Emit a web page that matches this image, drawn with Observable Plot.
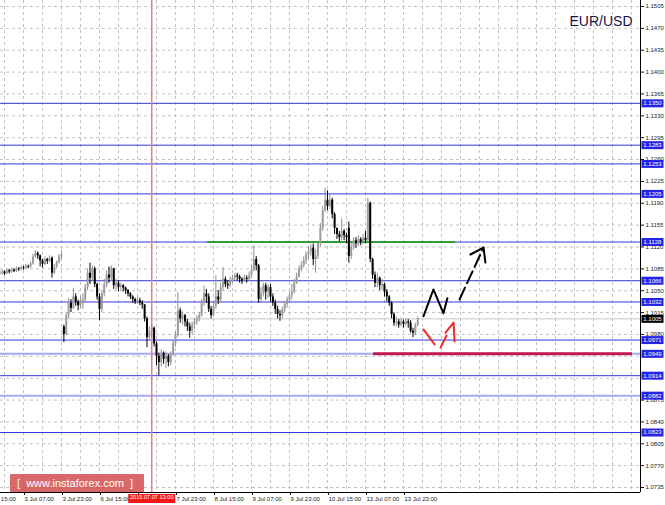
<!DOCTYPE html>
<html><head><meta charset="utf-8">
<script src="https://cdn.jsdelivr.net/npm/d3@7"></script>
<script src="https://cdn.jsdelivr.net/npm/@observablehq/plot@0.6"></script>
<style>
html,body{margin:0;padding:0;background:#fff;}
#wrap{position:relative;width:665px;height:505px;overflow:hidden;}
#wm{position:absolute;left:10px;top:474px;width:134px;height:18px;background:rgba(212,78,78,0.85);color:#fff;font:11px 'Liberation Sans',Arial,sans-serif;line-height:18px;white-space:pre;padding-left:7px;box-sizing:border-box;border-radius:1px;}
</style></head><body><div id="wrap"><div id="chart"></div><div id="wm">[  www.instaforex.com  ]</div></div>
<script>
// ---- data ----
const firstBar = 6; // hourly bar index of the first visible candle (bar 0 = 2 Jul 15:00)
const firstOpen = 1.1076;
const gapOpen = {33: 1.0992, 153: 1.1150};
const close = [
1.1078,1.1080,1.1077,1.1082,
1.1080,1.1083,1.1081,1.1085,1.1084,1.1087,1.1086,1.1089,1.1088,1.1093,
1.1104,1.1110,1.1106,1.1098,1.1092,1.1100,1.1097,1.1102,1.1078,1.1088,
1.1095,1.1104,1.1107,1.0980,1.1010,1.1030,1.1022,1.1040,1.1032,1.1026,
1.1030,1.1035,1.1055,1.1078,1.1070,1.1085,1.1060,1.1040,1.1020,1.1045,
1.1060,1.1075,1.1070,1.1085,1.1058,1.1062,1.1055,1.1058,1.1054,1.1050,
1.1045,1.1040,1.1036,1.1032,1.1034,1.1030,1.1027,1.1005,1.0975,1.0985,
1.0990,1.0965,1.0945,1.0935,1.0950,1.0940,1.0945,1.0935,1.0948,1.0965,
1.0978,1.1018,1.1005,1.1010,1.1000,1.0992,1.0985,1.0995,1.1000,1.1005,
1.1010,1.1030,1.1045,1.1040,1.1020,1.1010,1.1025,1.1040,1.1035,1.1055,
1.1068,1.1060,1.1058,1.1065,1.1070,1.1074,1.1072,1.1068,1.1065,1.1070,
1.1068,1.1074,1.1082,1.1100,1.1090,1.1036,1.1045,1.1058,1.1048,1.1055,
1.1040,1.1030,1.1020,1.1012,1.1010,1.1020,1.1028,1.1035,1.1042,1.1048,
1.1062,1.1072,1.1085,1.1090,1.1098,1.1108,1.1112,1.1118,1.1100,1.1105,
1.1125,1.1150,1.1178,1.1195,1.1185,1.1195,1.1172,1.1150,1.1140,1.1135,
1.1145,1.1138,1.1135,1.1105,1.1120,1.1130,1.1125,1.1132,1.1128,1.1134,
1.1130,1.1190,1.1100,1.1075,1.1062,1.1070,1.1058,1.1060,1.1048,1.1040,
1.1030,1.1012,1.0998,1.1000,1.0995,1.1000,1.0996,1.1000,1.0998,1.0985,
1.0982,1.0995,1.1005];
const high = [
1.1082,1.1083,1.1082,1.1085,
1.1084,1.1086,1.1085,1.1088,1.1087,1.1090,1.1089,1.1092,1.1091,1.1096,
1.1108,1.1114,1.1112,1.1107,1.1100,1.1104,1.1102,1.1106,1.1104,1.1092,
1.1098,1.1108,1.1114,1.0995,1.1015,1.1038,1.1036,1.1054,1.1045,1.1035,
1.1040,1.1045,1.1060,1.1085,1.1094,1.1090,1.1088,1.1062,1.1045,1.1050,
1.1068,1.1082,1.1088,1.1090,1.1086,1.1068,1.1066,1.1062,1.1060,1.1056,
1.1052,1.1047,1.1042,1.1038,1.1040,1.1038,1.1034,1.1028,1.1008,1.0992,
1.0995,1.0992,1.0968,1.0950,1.0955,1.0952,1.0952,1.0948,1.0952,1.0970,
1.0984,1.1047,1.1022,1.1016,1.1012,1.1004,1.0998,1.1000,1.1006,1.1010,
1.1015,1.1036,1.1058,1.1052,1.1045,1.1025,1.1030,1.1074,1.1050,1.1062,
1.1087,1.1072,1.1066,1.1072,1.1075,1.1078,1.1078,1.1075,1.1071,1.1075,
1.1074,1.1080,1.1090,1.1122,1.1105,1.1092,1.1055,1.1062,1.1062,1.1060,
1.1060,1.1045,1.1035,1.1025,1.1018,1.1024,1.1032,1.1040,1.1047,1.1060,
1.1068,1.1078,1.1090,1.1096,1.1104,1.1112,1.1120,1.1124,1.1125,1.1115,
1.1128,1.1158,1.1185,1.1214,1.1210,1.1205,1.1198,1.1175,1.1150,1.1145,
1.1165,1.1148,1.1142,1.1160,1.1128,1.1135,1.1135,1.1138,1.1135,1.1140,
1.1145,1.1198,1.1192,1.1102,1.1080,1.1078,1.1072,1.1068,1.1062,1.1052,
1.1042,1.1032,1.1015,1.1008,1.1004,1.1006,1.1003,1.1005,1.1004,1.1002,
1.0990,1.0998,1.1008];
const low = [
1.1074,1.1075,1.1074,1.1076,
1.1077,1.1078,1.1079,1.1079,1.1081,1.1082,1.1083,1.1084,1.1085,1.1086,
1.1091,1.1102,1.1100,1.1088,1.1086,1.1090,1.1092,1.1095,1.1070,1.1076,
1.1085,1.1093,1.1100,1.0967,1.0978,1.1005,1.1015,1.1020,1.1025,1.1018,
1.1022,1.1020,1.1030,1.1050,1.1060,1.1065,1.1055,1.1035,1.1002,1.1015,
1.1040,1.1055,1.1062,1.1065,1.1052,1.1050,1.1048,1.1050,1.1048,1.1044,
1.1040,1.1036,1.1030,1.1028,1.1028,1.1026,1.1020,1.1000,1.0959,1.0970,
1.0975,1.0960,1.0930,1.0914,1.0928,1.0932,1.0925,1.0928,1.0930,1.0945,
1.0960,1.0975,1.0998,1.0995,1.0992,1.0985,1.0974,1.0980,1.0988,1.0995,
1.1000,1.1008,1.1025,1.1030,1.1015,1.1005,1.1008,1.1020,1.1028,1.1032,
1.1050,1.1055,1.1052,1.1055,1.1062,1.1066,1.1066,1.1062,1.1060,1.1063,
1.1062,1.1066,1.1070,1.1080,1.1082,1.1030,1.1030,1.1040,1.1035,1.1038,
1.1032,1.1025,1.1012,1.1005,1.1001,1.1005,1.1015,1.1022,1.1030,1.1035,
1.1045,1.1060,1.1070,1.1080,1.1086,1.1092,1.1100,1.1105,1.1090,1.1078,
1.1100,1.1120,1.1145,1.1175,1.1178,1.1180,1.1165,1.1140,1.1132,1.1128,
1.1130,1.1130,1.1125,1.1094,1.1100,1.1115,1.1118,1.1120,1.1122,1.1124,
1.1125,1.1128,1.1095,1.1068,1.1055,1.1055,1.1050,1.1050,1.1040,1.1032,
1.1025,1.1005,1.0993,1.0992,1.0990,1.0992,1.0990,1.0993,1.0990,1.0982,
1.0975,1.0978,1.0992];

const tickBars = [0,16,32,48,64,80,96,112,128,144,160,176];
const tickLabels = ["2 Jul 15:00","3 Jul 07:00","3 Jul 23:00","6 Jul 15:00","7 Jul 07:00","7 Jul 23:00","8 Jul 15:00","9 Jul 07:00","9 Jul 23:00","10 Jul 15:00","13 Jul 07:00","13 Jul 23:00"];
const priceTicks = [1.1505,1.1470,1.1435,1.1400,1.1365,1.1330,1.1295,1.1260,1.1225,1.1190,1.1155,1.1120,1.1085,1.1050,1.1015,1.0980,1.0945,1.0910,1.0875,1.0840,1.0805,1.0770,1.0735];
const levels = [1.1350,1.1283,1.1253,1.1205,1.1128,1.1066,1.1032,1.0971,1.0949,1.0914,1.0882,1.0823];
const lightLevels = [1.0949,1.0882];
const currentPrice = 1.1005;
const markerBar = 70;
const markerLabel = "2015.07.07 13:00";
const title = "EUR/USD";
const greenLine = [{bar1: 93.5, bar2: 198, price: 1.1128}];
const magentaLine = [{bar1: 163.4, bar2: 272.4, price: 1.0949}];
const blackPath = [[184.4,1.1009],[188.6,1.1052],[192.8,1.1014],[194.5,1.1038]];
const blackDashed = [[199.6,1.1036],[209.7,1.1119]];
const blackHead = [[204.2,1.1108],[209.7,1.1119],[210.5,1.1095]];
const redSeg1 = [[184.4,1.0988],[189.1,1.0964]];
const redSeg2 = [[191.6,1.0959],[194.1,1.0978]];
const redHead = [[193.7,1.0983],[197.1,1.0999],[197.5,1.0969]];

// ---- build ----
const bars = close.map((c, k) => {
  const i = firstBar + k;
  const o = gapOpen[i] ?? (k ? close[k - 1] : firstOpen);
  return {i, o, h: high[k], l: low[k], c};
});
const up = bars.filter(d => d.c >= d.o), dn = bars.filter(d => d.c < d.o);
const xDom = [6.32, 275.8], yDom = [1.0727, 1.15146];
const gridBars = d3.range(0, 280, 8);
const rectSym = (w, h) => ({draw(ctx) {ctx.moveTo(-w/2,-h/2);ctx.lineTo(w/2,-h/2);ctx.lineTo(w/2,h/2);ctx.lineTo(-w/2,h/2);ctx.closePath();}});
const fmt = d3.format(".4f");
const toPts = (arr, id) => arr.map(([b, p]) => ({b, p, id}));
const allMarks = [...levels, currentPrice];
const axisTicks = priceTicks.filter(t => !allMarks.some(v => Math.abs(v - t) < 0.0005));
const LEVEL = "#3434dc", LIGHT = "#a9a9f5";

const chart = Plot.plot({
  width: 665, height: 505,
  marginLeft: 0, marginRight: 25, marginTop: 0, marginBottom: 13,
  style: {background: "#fff", fontFamily: "'Liberation Sans', Arial, sans-serif", fontSize: "6px", color: "#111"},
  x: {domain: xDom, axis: null},
  y: {domain: yDom, axis: null},
  marks: [
    Plot.gridY(priceTicks, {stroke: "#c2c2c2", strokeOpacity: 1, strokeDasharray: "3,3"}),
    Plot.gridX(gridBars, {stroke: "#c2c2c2", strokeOpacity: 1, strokeDasharray: "3,3"}),
    Plot.ruleY([currentPrice], {stroke: "#c6c6c6", strokeWidth: 1}),
    Plot.ruleY(levels.filter(v => !lightLevels.includes(v)), {stroke: LEVEL, strokeWidth: 1}),
    Plot.ruleY(lightLevels, {stroke: LIGHT, strokeWidth: 2}),
    Plot.ruleX([markerBar], {stroke: "#f27c7c", strokeWidth: 1.5}),
    Plot.ruleY(greenLine, {y: "price", x1: "bar1", x2: "bar2", stroke: "#2e9e3a", strokeWidth: 2}),
    Plot.ruleY(magentaLine, {y: "price", x1: "bar1", x2: "bar2", stroke: "#c2174f", strokeWidth: 3}),
    Plot.ruleX(up, {x: "i", y1: "l", y2: "h", stroke: "#8f8f8f", strokeWidth: 1}),
    Plot.ruleX(up, {x: "i", y1: "o", y2: "c", stroke: "#9c9c9c", strokeWidth: 2}),
    Plot.ruleX(dn, {x: "i", y1: "l", y2: "h", stroke: "#000", strokeWidth: 1}),
    Plot.ruleX(dn, {x: "i", y1: "o", y2: "c", stroke: "#000", strokeWidth: 2}),
    Plot.line(toPts(blackPath, "a"), {x: "b", y: "p", stroke: "#000", strokeWidth: 2}),
    Plot.line(toPts(blackDashed, "b"), {x: "b", y: "p", stroke: "#000", strokeWidth: 2, strokeDasharray: "13,5"}),
    Plot.line(toPts(blackHead, "c"), {x: "b", y: "p", stroke: "#000", strokeWidth: 2}),
    Plot.line([...toPts(redSeg1, "d"), ...toPts(redSeg2, "e"), ...toPts(redHead, "f")], {x: "b", y: "p", z: "id", stroke: "#ee2a2a", strokeWidth: 2}),
    Plot.ruleX([xDom[1]], {stroke: "#000"}),
    Plot.ruleY([yDom[0]], {stroke: "#000"}),
    Plot.axisY(axisTicks, {anchor: "right", tickFormat: fmt, tickSize: 3, tickPadding: 2, fontSize: 6, fill: "#222"}),
    Plot.dot(levels, {y: d => d, frameAnchor: "right", dx: 12, symbol: rectSym(22, 8), r: 4, fill: "#2424e6", stroke: null}),
    Plot.text(levels, {y: d => d, frameAnchor: "right", dx: 12, text: fmt, textAnchor: "middle", fill: "#fff", fontSize: 6}),
    Plot.dot([currentPrice], {y: d => d, frameAnchor: "right", dx: 12, symbol: rectSym(22, 8), r: 4, fill: "#000", stroke: null}),
    Plot.text([currentPrice], {y: d => d, frameAnchor: "right", dx: 12, text: fmt, textAnchor: "middle", fill: "#fff", fontSize: 6}),
    Plot.axisX(tickBars, {anchor: "bottom", tickFormat: d => Math.abs(d - markerBar) < 10 ? "" : tickLabels[tickBars.indexOf(d)], textAnchor: "start", dx: 1, tickSize: 3, tickPadding: 1, fontSize: 6, fill: "#222"}),
    Plot.dot([markerBar], {x: d => d, frameAnchor: "bottom", dy: 6, symbol: rectSym(47, 9), r: 4, fill: "#f01818", stroke: null}),
    Plot.text([markerLabel], {x: () => markerBar, frameAnchor: "bottom", dy: 6, text: d => d, textAnchor: "middle", fill: "#fff", fontSize: 5.6}),
    Plot.text([title], {frameAnchor: "top-right", dx: -8, dy: 16, text: d => d, textAnchor: "end", fontSize: 14, fill: "#15154a"})
  ]
});
document.getElementById("chart").appendChild(chart);
</script></body></html>
